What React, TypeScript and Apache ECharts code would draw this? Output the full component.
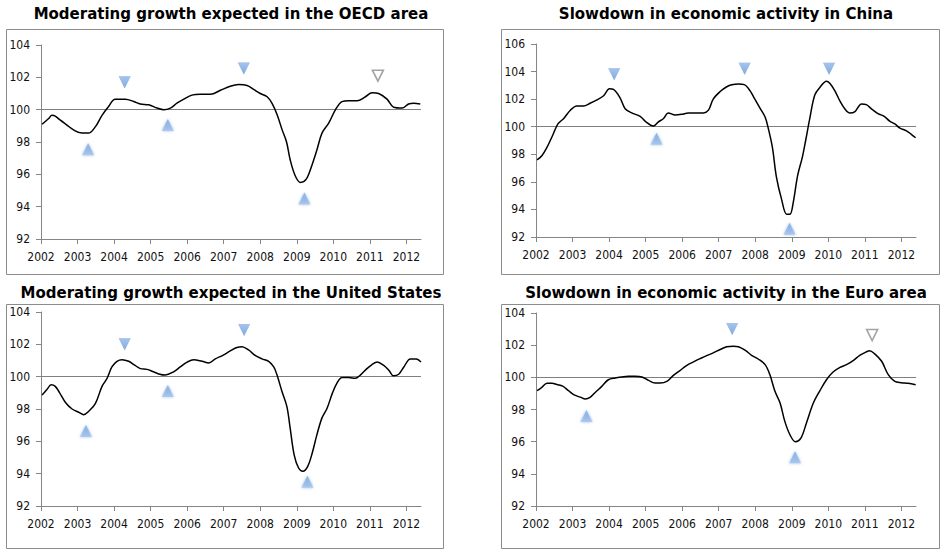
import React, { useEffect, useRef } from "react";
import * as echarts from "echarts";

const yearTicks = [2002, 2003, 2004, 2005, 2006, 2007, 2008, 2009, 2010, 2011, 2012];

const titles = [
  "Moderating growth expected in the OECD area",
  "Slowdown in economic activity in China",
  "Moderating growth expected in the United States",
  "Slowdown in economic activity in the Euro area",
];

// OECD area
const oecdX = [2002.03, 2002.21, 2002.3, 2002.39, 2002.53, 2002.71, 2002.89, 2003.12, 2003.3, 2003.49, 2003.67, 2003.85, 2004.03, 2004.31, 2004.54, 2004.72, 2004.95, 2005.18, 2005.36, 2005.54, 2005.72, 2005.91, 2006.13, 2006.36, 2006.64, 2006.91, 2007.18, 2007.41, 2007.64, 2007.82, 2008.0, 2008.19, 2008.32, 2008.46, 2008.6, 2008.72, 2008.82, 2008.96, 2009.1, 2009.26, 2009.42, 2009.55, 2009.69, 2009.87, 2010.06, 2010.24, 2010.42, 2010.65, 2010.88, 2011.06, 2011.24, 2011.47, 2011.65, 2011.88, 2012.06, 2012.2, 2012.38];
const oecdY = [99.1, 99.45, 99.65, 99.6, 99.35, 99.05, 98.75, 98.55, 98.55, 98.95, 99.65, 100.2, 100.65, 100.65, 100.5, 100.35, 100.3, 100.1, 100.0, 100.1, 100.4, 100.65, 100.9, 100.95, 100.95, 101.2, 101.45, 101.55, 101.5, 101.25, 101.0, 100.8, 100.4, 99.7, 98.75, 98.0, 96.9, 95.9, 95.5, 95.7, 96.6, 97.5, 98.55, 99.15, 100.0, 100.5, 100.55, 100.55, 100.8, 101.05, 101.0, 100.65, 100.15, 100.1, 100.35, 100.4, 100.35];
const oecdTroughs = [[2003.29, 97.55], [2005.47, 99.05], [2009.21, 94.5]];
const oecdPeaks = [[2004.29, 101.7], [2007.55, 102.55]];
const oecdTentative = [[2011.22, 102.1]];

// China
const chinaX = [2002.03, 2002.16, 2002.3, 2002.46, 2002.6, 2002.76, 2002.94, 2003.12, 2003.3, 2003.48, 2003.67, 2003.85, 2004.01, 2004.12, 2004.3, 2004.44, 2004.62, 2004.85, 2005.01, 2005.21, 2005.35, 2005.49, 2005.62, 2005.81, 2005.99, 2006.17, 2006.4, 2006.58, 2006.72, 2006.85, 2007.04, 2007.22, 2007.36, 2007.54, 2007.7, 2007.86, 2007.99, 2008.13, 2008.27, 2008.36, 2008.47, 2008.58, 2008.72, 2008.86, 2008.95, 2009.04, 2009.16, 2009.29, 2009.38, 2009.5, 2009.63, 2009.77, 2009.95, 2010.04, 2010.18, 2010.32, 2010.45, 2010.59, 2010.73, 2010.91, 2011.04, 2011.18, 2011.36, 2011.53, 2011.68, 2011.82, 2011.96, 2012.14, 2012.27, 2012.39];
const chinaY = [97.6, 97.9, 98.5, 99.4, 100.2, 100.6, 101.2, 101.5, 101.5, 101.7, 101.95, 102.25, 102.75, 102.7, 102.1, 101.3, 101.0, 100.75, 100.35, 100.05, 100.35, 100.6, 101.0, 100.85, 100.9, 101.0, 101.0, 101.0, 101.2, 102.0, 102.55, 102.9, 103.05, 103.1, 103.05, 102.6, 102.0, 101.35, 100.7, 99.85, 98.5, 96.35, 94.75, 93.65, 93.65, 94.5, 96.45, 97.8, 99.0, 100.7, 102.3, 102.85, 103.3, 103.15, 102.6, 101.85, 101.3, 101.0, 101.1, 101.65, 101.6, 101.3, 100.95, 100.75, 100.4, 100.2, 99.9, 99.7, 99.45, 99.2];
const chinaTroughs = [[2005.3, 99.13], [2008.94, 92.6]];
const chinaPeaks = [[2004.14, 103.8], [2007.71, 104.2], [2010.02, 104.2]];
const chinaTentative: number[][] = [];

// United States
const usX = [2002.03, 2002.16, 2002.28, 2002.39, 2002.51, 2002.67, 2002.85, 2003.03, 2003.17, 2003.3, 2003.49, 2003.67, 2003.81, 2003.94, 2004.08, 2004.22, 2004.4, 2004.54, 2004.72, 2004.9, 2005.08, 2005.25, 2005.4, 2005.63, 2005.81, 2006.0, 2006.18, 2006.41, 2006.59, 2006.77, 2007.0, 2007.18, 2007.36, 2007.5, 2007.68, 2007.87, 2008.05, 2008.23, 2008.37, 2008.46, 2008.6, 2008.73, 2008.82, 2008.93, 2009.05, 2009.17, 2009.3, 2009.42, 2009.55, 2009.69, 2009.83, 2009.97, 2010.1, 2010.24, 2010.42, 2010.6, 2010.74, 2010.92, 2011.06, 2011.2, 2011.38, 2011.52, 2011.65, 2011.79, 2011.93, 2012.11, 2012.27, 2012.4];
const usY = [98.87, 99.2, 99.5, 99.4, 99.0, 98.4, 98.0, 97.8, 97.65, 97.85, 98.35, 99.4, 99.9, 100.6, 100.95, 101.05, 100.95, 100.75, 100.5, 100.45, 100.3, 100.15, 100.1, 100.3, 100.6, 100.9, 101.05, 100.95, 100.85, 101.1, 101.35, 101.6, 101.8, 101.85, 101.65, 101.3, 101.1, 100.95, 100.6, 100.1, 99.05, 98.15, 96.8, 95.15, 94.35, 94.15, 94.45, 95.25, 96.4, 97.45, 98.05, 98.95, 99.6, 99.95, 99.95, 99.9, 100.1, 100.5, 100.75, 100.9, 100.7, 100.4, 100.05, 100.15, 100.6, 101.1, 101.1, 100.9];
const usTroughs = [[2003.23, 96.64], [2005.47, 99.11], [2009.29, 93.5]];
const usPeaks = [[2004.29, 102.0], [2007.56, 102.89]];
const usTentative: number[][] = [];

// Euro area
const euroX = [2002.03, 2002.16, 2002.3, 2002.44, 2002.57, 2002.73, 2002.89, 2003.03, 2003.21, 2003.35, 2003.48, 2003.62, 2003.8, 2003.98, 2004.17, 2004.35, 2004.53, 2004.71, 2004.9, 2005.08, 2005.26, 2005.4, 2005.58, 2005.76, 2005.94, 2006.13, 2006.31, 2006.49, 2006.67, 2006.85, 2007.04, 2007.22, 2007.4, 2007.54, 2007.72, 2007.9, 2008.08, 2008.27, 2008.4, 2008.54, 2008.68, 2008.81, 2008.95, 2009.1, 2009.25, 2009.4, 2009.59, 2009.77, 2009.95, 2010.13, 2010.32, 2010.5, 2010.68, 2010.86, 2011.04, 2011.13, 2011.27, 2011.46, 2011.64, 2011.82, 2012.0, 2012.18, 2012.39];
const euroY = [99.17, 99.38, 99.63, 99.63, 99.55, 99.45, 99.17, 98.92, 98.77, 98.65, 98.75, 99.06, 99.44, 99.85, 99.96, 100.02, 100.06, 100.06, 100.02, 99.81, 99.65, 99.65, 99.75, 100.12, 100.42, 100.75, 100.96, 101.16, 101.35, 101.52, 101.73, 101.9, 101.94, 101.9, 101.69, 101.37, 101.14, 100.79, 100.17, 99.13, 98.4, 97.26, 96.43, 96.0, 96.22, 97.15, 98.4, 99.17, 99.85, 100.33, 100.62, 100.79, 101.04, 101.37, 101.58, 101.66, 101.46, 101.0, 100.17, 99.75, 99.67, 99.63, 99.54];
const euroTroughs = [[2003.38, 97.6], [2009.09, 95.03]];
const euroPeaks = [[2007.37, 103.0]];
const euroTentative = [[2011.2, 102.63]];

const yMins = [92, 92, 92, 92];
const yMaxs = [104, 106, 104, 104];

const panels = [
  { x: oecdX, y: oecdY, troughs: oecdTroughs, peaks: oecdPeaks, tentative: oecdTentative },
  { x: chinaX, y: chinaY, troughs: chinaTroughs, peaks: chinaPeaks, tentative: chinaTentative },
  { x: usX, y: usY, troughs: usTroughs, peaks: usPeaks, tentative: usTentative },
  { x: euroX, y: euroY, troughs: euroTroughs, peaks: euroPeaks, tentative: euroTentative },
];

// layout (pixels)
const grids = [
  { left: 41, top: 45, width: 380, height: 194 },
  { left: 536, top: 44, width: 380, height: 193 },
  { left: 41, top: 312, width: 380, height: 194 },
  { left: 536, top: 313, width: 380, height: 193 },
];
const boxes = [
  { x: 6.5, y: 29.5, w: 437, h: 245 },
  { x: 501.5, y: 29.5, w: 438, h: 245 },
  { x: 6.5, y: 304.5, w: 437, h: 244 },
  { x: 501.5, y: 304.5, w: 438, h: 244 },
];
const titlePos = [
  { x: 231, y: 14 },
  { x: 726, y: 14 },
  { x: 231, y: 293 },
  { x: 726, y: 293 },
];

const AXIS_COLOR = "#868686";
const LABEL_FONT = '"DejaVu Sans Condensed", "DejaVu Sans", sans-serif';

export default function App() {
  const ref = useRef<HTMLDivElement>(null);

  useEffect(() => {
    if (!ref.current) return;
    const chart = echarts.init(ref.current, undefined, { renderer: "svg" });

    const blue = new echarts.graphic.LinearGradient(0, 0, 0, 1, [
      { offset: 0, color: "#79a5df" },
      { offset: 1, color: "#a6c4ec" },
    ]);

    const series: any[] = [];
    panels.forEach((p, i) => {
      series.push({
        type: "line",
        xAxisIndex: i,
        yAxisIndex: i,
        data: p.x.map((xv, k) => [xv, p.y[k]]),
        smooth: 0.35,
        showSymbol: false,
        symbol: "none",
        lineStyle: { color: "#000", width: 1.5 },
        z: 3,
        markLine: {
          silent: true,
          symbol: ["none", "none"],
          label: { show: false },
          lineStyle: { color: "#7f7f7f", width: 1, type: "solid" },
          data: [{ yAxis: 100 }],
          z: 2,
        },
      });
      series.push({
        type: "scatter",
        xAxisIndex: i,
        yAxisIndex: i,
        data: p.troughs,
        symbol: "triangle",
        symbolSize: [12, 12],
        itemStyle: { color: blue, shadowBlur: 3, shadowColor: "rgba(130,170,225,0.9)" },
        clip: false,
        z: 4,
      });
      series.push({
        type: "scatter",
        xAxisIndex: i,
        yAxisIndex: i,
        data: p.peaks,
        symbol: "triangle",
        symbolRotate: 180,
        symbolSize: [12, 12],
        itemStyle: { color: blue, shadowBlur: 3, shadowColor: "rgba(130,170,225,0.9)" },
        clip: false,
        z: 4,
      });
      series.push({
        type: "scatter",
        xAxisIndex: i,
        yAxisIndex: i,
        data: p.tentative,
        symbol: "triangle",
        symbolRotate: 180,
        symbolSize: [11, 11],
        itemStyle: { color: "#ffffff", borderColor: "#8c8c8c", borderWidth: 1.6 },
        clip: false,
        z: 4,
      });
    });

    const graphic: any[] = [];
    boxes.forEach((b) => {
      graphic.push({
        type: "rect",
        shape: { x: b.x, y: b.y, width: b.w, height: b.h },
        style: { fill: "none", stroke: "#8c8c8c", lineWidth: 1 },
        silent: true,
      });
    });
    titles.forEach((t, i) => {
      graphic.push({
        type: "text",
        x: titlePos[i].x,
        y: titlePos[i].y,
        style: {
          text: t,
          fontFamily: '"DejaVu Sans", sans-serif',
          fontWeight: "bold",
          fontSize: 15,
          fill: "#000",
          align: "center",
          verticalAlign: "middle",
        },
      });
    });

    chart.setOption({
      animation: false,
      backgroundColor: "#fff",
      grid: grids.map((g) => ({ ...g, containLabel: false })),
      xAxis: grids.map((_, i) => ({
        type: "value",
        gridIndex: i,
        min: 2002,
        max: 2012.4,
        interval: 1,
        axisLine: { onZero: false, lineStyle: { color: AXIS_COLOR, width: 1 } },
        axisTick: { show: true, length: 5, customValues: yearTicks, lineStyle: { color: AXIS_COLOR } },
        axisLabel: {
          customValues: yearTicks,
          formatter: (v: number) => String(Math.round(v)),
          color: "#111",
          fontSize: 12,
          fontFamily: LABEL_FONT,
          margin: 12,
        },
        splitLine: { show: false },
      })),
      yAxis: grids.map((_, i) => ({
        type: "value",
        gridIndex: i,
        min: yMins[i],
        max: yMaxs[i],
        interval: 2,
        axisLine: { show: true, onZero: false, lineStyle: { color: AXIS_COLOR, width: 1 } },
        axisTick: { show: true, length: 5, lineStyle: { color: AXIS_COLOR } },
        axisLabel: {
          color: "#111",
          fontSize: 12,
          fontFamily: LABEL_FONT,
          margin: 11,
        },
        splitLine: { show: false },
      })),
      series,
      graphic,
    });

    return () => chart.dispose();
  }, []);

  return (
    <div
      ref={ref}
      style={{ position: "fixed", left: 0, top: 0, width: 949, height: 557, background: "#fff" }}
    />
  );
}
